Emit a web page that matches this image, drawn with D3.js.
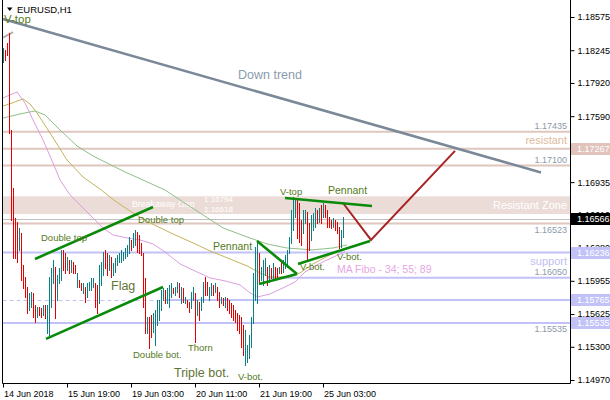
<!DOCTYPE html>
<html><head><meta charset="utf-8">
<script src="https://cdn.jsdelivr.net/npm/d3@7"></script>
<style>
html,body{margin:0;padding:0;background:#fff;}
svg{display:block;font-family:"Liberation Sans",Arial,sans-serif;}
</style>
</head><body>
<svg id="chart" width="610" height="400"></svg>
<script>
// ---------- DATA ----------
const timeTickBars = [0, 32, 64, 96, 128, 160];
const timeLabels = ["14 Jun 2018", "15 Jun 19:00", "19 Jun 03:00", "20 Jun 11:00", "21 Jun 19:00", "25 Jun 03:00"];
const priceTicks = [1.18575, 1.18245, 1.17920, 1.17590, 1.17265, 1.16935, 1.16610, 1.16280, 1.15955, 1.15625, 1.15300, 1.14970];
const hiddenTickLabels = [1.17265];

const highs = [
1.18267,1.18247,1.18317,1.18416,1.17453,1.16877,1.16579,1.16540,1.16480,1.16430,
1.16113,1.15993,1.15894,1.15834,1.15844,1.15834,1.15715,1.15695,1.15695,1.15686,
1.15715,1.15715,1.15715,1.15993,1.16083,1.16162,1.16093,1.16013,1.16083,1.16262,
1.16262,1.16232,1.16192,1.16162,1.16162,1.16142,1.16113,1.16033,1.15964,1.15934,
1.15934,1.15894,1.15934,1.15944,1.15983,1.15983,1.15934,1.15914,1.16113,1.16142,
1.16242,1.16262,1.16232,1.16212,1.16192,1.16132,1.16182,1.16212,1.16232,1.16262,
1.16242,1.16281,1.16311,1.16391,1.16361,1.16430,1.16460,1.16440,1.16410,1.16331,
1.16232,1.15983,1.15596,1.15596,1.15616,1.15636,1.15666,1.15765,1.15765,1.15864,
1.15884,1.15864,1.15884,1.15914,1.15934,1.15884,1.15894,1.15944,1.15934,1.15894,
1.15884,1.15795,1.15765,1.15745,1.15844,1.15894,1.15834,1.15765,1.15745,1.15795,
1.15944,1.15993,1.15944,1.15894,1.15934,1.15914,1.15934,1.15894,1.15844,1.15795,
1.15785,1.15795,1.15785,1.15765,1.15735,1.15715,1.15666,1.15636,1.15616,1.15596,
1.15517,1.15467,1.15318,1.15417,1.15596,1.16033,1.16291,1.16331,1.16232,1.16093,
1.16162,1.16182,1.16093,1.16113,1.16083,1.16132,1.16093,1.16083,1.16093,1.16162,
1.16162,1.16212,1.16262,1.16391,1.16659,1.16788,1.16758,1.16758,1.16728,1.16559,
1.16659,1.16659,1.16639,1.16530,1.16609,1.16629,1.16679,1.16659,1.16679,1.16708,
1.16728,1.16708,1.16659,1.16589,1.16559,1.16579,1.16559,1.16540,1.16490,1.16460,
1.16589];
const lows = [
1.18128,1.18148,1.18198,1.17423,1.16559,1.16182,1.16182,1.16142,1.16262,1.15964,
1.15884,1.15795,1.15636,1.15666,1.15695,1.15596,1.15547,1.15596,1.15616,1.15596,
1.15616,1.15586,1.15437,1.15417,1.15695,1.15934,1.15586,1.15765,1.15934,1.15964,
1.16063,1.16033,1.16063,1.16033,1.16043,1.16033,1.16033,1.15894,1.15894,1.15864,
1.15834,1.15745,1.15795,1.15864,1.15864,1.15894,1.15695,1.15636,1.15735,1.15914,
1.16013,1.16083,1.16013,1.16063,1.15993,1.16013,1.16043,1.16113,1.16142,1.16142,
1.16162,1.16182,1.16202,1.16232,1.16262,1.16291,1.16311,1.16242,1.16232,1.16212,
1.15695,1.15437,1.15437,1.15288,1.15398,1.15447,1.15318,1.15517,1.15566,1.15666,
1.15765,1.15735,1.15735,1.15695,1.15795,1.15834,1.15815,1.15844,1.15795,1.15735,
1.15745,1.15735,1.15695,1.15646,1.15686,1.15765,1.15348,1.15616,1.15566,1.15666,
1.15745,1.15815,1.15815,1.15765,1.15815,1.15815,1.15844,1.15765,1.15695,1.15735,
1.15715,1.15695,1.15666,1.15636,1.15596,1.15566,1.15547,1.15467,1.15437,1.15298,
1.15219,1.15120,1.15149,1.15189,1.15298,1.15537,1.15765,1.15735,1.15934,1.15964,
1.15914,1.16013,1.15914,1.15944,1.15983,1.15964,1.15983,1.15993,1.16033,1.16033,
1.16043,1.16083,1.16093,1.16232,1.16331,1.16460,1.16589,1.16381,1.16341,1.16311,
1.16430,1.16530,1.16162,1.16262,1.16361,1.16460,1.16490,1.16530,1.16540,1.16530,
1.16589,1.16589,1.16490,1.16490,1.16480,1.16490,1.16460,1.16430,1.16281,1.16291,
1.16391];
// bar direction: u = close above open, d = close below open
const directions = ("udddddddud" + "ddduuddudd" + "uduuuuduuu" + "ddududdudd" + "uduuuudduu" +
  "udduduuuuu" + "uuuuduuddd" + "ddudduuuuu" + "uduuuduudu" + "dudduududu" +
  "udduududdu" + "dudddddddd" + "duuuuuuudu" + "uudududdud" + "uuuuuuuddd" +
  "uudduuudud" + "uddddudddu" + "u").split("");

// MA Fibo 34 / 55 / 89 : [bar index, price]
const ma34 = [[0,1.17771],[3.5,1.17801],[7,1.17830],[11,1.17721],[15,1.17552],[20,1.17354],[25,1.17125],[28.5,1.16957],[33.5,1.16808],[38.5,1.16708],[45,1.16579],[50,1.16480],[55,1.16410],[62,1.16381],[68.5,1.16361],[75,1.16321],[81,1.16242],[88.5,1.16123],[97,1.16043],[103.5,1.15984],[111,1.15954],[118.5,1.15914],[123.5,1.15835],[127.5,1.15795],[133.5,1.15825],[141,1.15894],[146,1.15944],[151,1.16043],[156,1.16103],[161,1.16152],[168.5,1.16222],[171,1.16242]];
const ma55 = [[0,1.17691],[4.5,1.17721],[10,1.17761],[13.5,1.17711],[17,1.17622],[23.5,1.17423],[32,1.17155],[40,1.16986],[48.5,1.16867],[56,1.16748],[65,1.16629],[73.5,1.16530],[85,1.16420],[95,1.16331],[103.5,1.16252],[111,1.16192],[122,1.16103],[128.5,1.16033],[133.5,1.15993],[143.5,1.15993],[148.5,1.16033],[155,1.16123],[163.5,1.16212],[171,1.16271]];
const ma89 = [[0,1.17572],[8.5,1.17612],[16,1.17642],[21,1.17602],[28.5,1.17453],[37,1.17294],[45,1.17195],[52,1.17125],[61,1.17036],[71,1.16947],[81,1.16857],[88.5,1.16758],[98.5,1.16629],[110,1.16480],[122,1.16391],[132,1.16321],[142,1.16281],[154.5,1.16262],[165,1.16281],[172,1.16311]];

// drawn objects: [bar, price] end points
const downTrend = [[0,1.18555],[269,1.17031]];
const projection = [[170,1.16728],[184,1.16361],[226,1.17245]];
const shortGray = [[0,1.18370],[5,1.18425]];
const greenLines = [
  [[16,1.16172],[75,1.16688]],
  [[21.5,1.15378],[80,1.15894]],
  [[127,1.16351],[147,1.16023]],
  [[128,1.15924],[147,1.16023]],
  [[141,1.16778],[184.5,1.16698]],
  [[147.5,1.16122],[183.5,1.16351]]
];

const resistLevels = [1.17435, 1.17267, 1.17100, 1.16523];
const resistZone = [1.16794, 1.16618];
const currentPrice = 1.16566;
const supportLevels = [1.16236, 1.15535];
const fiboLine = {price: 1.15985, fromBar: 132.5, label: "1.16050"};
const midSupport = {price: 1.15765, solidFrom: 81};

// annotations: [text, bar, price, kind]
const annotations = [
  ["V-top", 0.5, 1.18518, "big"],
  ["Double top", 19, 1.16351, "small"],
  ["Double top", 67.5, 1.16530, "small"],
  ["Flag", 54, 1.15864, "large"],
  ["Double bot.", 65, 1.15189, "small"],
  ["Thorn", 92.5, 1.15259, "small"],
  ["Triple bot.", 85.5, 1.15000, "large"],
  ["V-bot.", 117.5, 1.14971, "small"],
  ["Pennant", 105, 1.16262, "mid"],
  ["V-top", 138.5, 1.16808, "small"],
  ["Pennant", 162.5, 1.16817, "mid"],
  ["V-bot.", 148.5, 1.16063, "small"],
  ["V-bot.", 167, 1.16165, "small"]
];

// ---------- CHART ----------
const svg = d3.select("#chart");
const plotL = 2.5, plotR = 570.5, plotB = 383.5;
const x = d3.scaleLinear().domain([0, 283.5]).range([3, 570]);
const y = d3.scaleLinear().domain([1.14970, 1.18575]).range([380, 17]);
const px = v => Math.round(x(v)) + 0.5;
const py = v => Math.round(y(v)) + 0.5;

const pinkLine = "#dfc6be", pinkFill = "#ecdcd8", lav = "#c2c2f8";
const txtCol = "#557a22";

const g = svg.append("g");

// Resistant zone
g.append("rect").attr("x", plotL).attr("width", plotR - plotL)
  .attr("y", y(resistZone[0])).attr("height", y(resistZone[1]) - y(resistZone[0]))
  .attr("fill", pinkFill);

// Pink resistance lines
g.selectAll(".rl").data(resistLevels).join("line")
  .attr("x1", plotL).attr("x2", plotR)
  .attr("y1", d => y(d)).attr("y2", d => y(d))
  .attr("stroke", pinkLine).attr("stroke-width", 2);

// current price line
g.append("line").attr("x1", plotL).attr("x2", plotR)
  .attr("y1", py(currentPrice)).attr("y2", py(currentPrice))
  .attr("stroke", "#c0c0c0").attr("stroke-width", 1);

// support lines
g.selectAll(".sl").data(supportLevels).join("line")
  .attr("x1", plotL).attr("x2", plotR)
  .attr("y1", d => y(d)).attr("y2", d => y(d))
  .attr("stroke", lav).attr("stroke-width", 2);
g.append("line").attr("x1", plotL).attr("x2", plotR)
  .attr("y1", py(midSupport.price)).attr("y2", py(midSupport.price))
  .attr("stroke", lav).attr("stroke-width", 1).attr("stroke-dasharray", "4,3");
g.append("line").attr("x1", x(midSupport.solidFrom)).attr("x2", plotR)
  .attr("y1", y(midSupport.price)).attr("y2", y(midSupport.price))
  .attr("stroke", lav).attr("stroke-width", 2);
g.append("line").attr("x1", x(fiboLine.fromBar)).attr("x2", plotR)
  .attr("y1", y(fiboLine.price)).attr("y2", y(fiboLine.price))
  .attr("stroke", lav).attr("stroke-width", 2);

// level texts
const lt = g.append("g").attr("text-anchor", "end");
const lvX = 567;
lt.append("text").attr("x", lvX).attr("y", y(1.17435) - 2.5).attr("font-size", 9).attr("fill", "#8d9aa8").text("1.17435");
lt.append("text").attr("x", lvX).attr("y", y(1.17267) - 5).attr("font-size", 11).attr("fill", "#dcbc9c").text("resistant");
lt.append("text").attr("x", lvX).attr("y", y(1.17100) - 2.5).attr("font-size", 9).attr("fill", "#8d9aa8").text("1.17100");
lt.append("text").attr("x", lvX).attr("y", y(resistZone[1]) - 5).attr("font-size", 11).attr("fill", "#ffffff").text("Resistant Zone");
lt.append("text").attr("x", lvX).attr("y", y(1.16523) + 9).attr("font-size", 9).attr("fill", "#8d9aa8").text("1.16523");
lt.append("text").attr("x", lvX).attr("y", y(1.16236) + 12.5).attr("font-size", 11).attr("fill", "#c0c0f0").text("support");
lt.append("text").attr("x", lvX).attr("y", y(fiboLine.price) - 2.5).attr("font-size", 9).attr("fill", "#8d9aa8").text(fiboLine.label);
lt.append("text").attr("x", lvX).attr("y", y(1.15535) + 9).attr("font-size", 9).attr("fill", "#8d9aa8").text("1.15535");

// Breakaway gap labels
g.append("text").attr("x", x(64.5)).attr("y", y(1.16688)).attr("font-size", 8.8).attr("fill", "#ffffff").text("Breakaway Gap");
g.append("text").attr("x", x(100.5)).attr("y", y(1.16733)).attr("font-size", 8).attr("fill", "#ffffff").text("1.16794");
g.append("text").attr("x", x(100.5)).attr("y", y(1.16638)).attr("font-size", 8).attr("fill", "#ffffff").text("1.16618");

// moving averages
const line = d3.line().x(d => x(d[0])).y(d => y(d[1]));
[[ma89, "#8fbf8a"], [ma55, "#c4b45a"], [ma34, "#dc9edc"]].forEach(([d, c]) => {
  g.append("path").attr("d", line(d)).attr("fill", "none").attr("stroke", c).attr("stroke-width", 1);
});
g.append("path").attr("d", line(shortGray)).attr("stroke", "#b0b0b0").attr("stroke-width", 2).attr("fill", "none");

// bars
g.append("g").selectAll("line").data(highs).join("line")
  .attr("x1", (d, i) => px(i)).attr("x2", (d, i) => px(i))
  .attr("y1", d => Math.round(y(d)))
  .attr("y2", (d, i) => Math.round(y(lows[i])) + 1)
  .attr("stroke", (d, i) => directions[i] === "u" ? "#0a8080" : "#e80000")
  .attr("stroke-width", 1);

// down trend
g.append("path").attr("d", line(downTrend)).attr("stroke", "#7a8898").attr("stroke-width", 2.5).attr("fill", "none");
g.append("text").attr("x", x(117.5)).attr("y", y(1.17960)).attr("font-size", 12.5).attr("fill", "#8a9bb0").text("Down trend");

// projection
g.append("path").attr("d", line(projection)).attr("stroke", "#a82424").attr("stroke-width", 2).attr("fill", "none");

// green pattern lines
g.selectAll(".gl").data(greenLines).join("path")
  .attr("d", d => line(d)).attr("stroke", "#0a8a0a").attr("stroke-width", 2.6).attr("fill", "none");

// annotations
const sizes = {small: 9.5, mid: 10.5, big: 11.5, large: 12.5};
g.selectAll(".an").data(annotations).join("text")
  .attr("x", d => x(d[1])).attr("y", d => y(d[2]))
  .attr("font-size", d => sizes[d[3]])
  .attr("fill", d => d[3] === "large" ? "#5f7436" : txtCol)
  .text(d => d[0]);
g.append("text").attr("x", x(167)).attr("y", y(1.16035)).attr("font-size", 10.5).attr("fill", "#e6a6e6").text("MA Fibo - 34; 55; 89");

// plot frame
svg.append("path").attr("d", `M${plotL},0V${plotB}H${plotR}V0`).attr("fill", "none").attr("stroke", "#000").attr("stroke-width", 1);

// right axis
const ay = svg.append("g").attr("transform", `translate(${plotR},0)`)
  .call(d3.axisRight(y).tickValues(priceTicks).tickSize(4)
    .tickFormat(d => hiddenTickLabels.includes(d) ? "" : d3.format(".5f")(d)));
ay.select(".domain").remove();
ay.selectAll("text").attr("font-size", 9).attr("font-family", "Liberation Sans, Arial, sans-serif").attr("fill", "#000");
ay.selectAll("line").attr("stroke", "#000");

// bottom axis
const ax = svg.append("g").attr("transform", `translate(0,${plotB})`)
  .call(d3.axisBottom(x).tickValues(timeTickBars).tickSize(4).tickFormat((d, i) => timeLabels[i]));
ax.select(".domain").remove();
ax.selectAll(".tick").attr("transform", d => `translate(${px(d)},0)`);
ax.selectAll("text").attr("font-size", 9).attr("font-family", "Liberation Sans, Arial, sans-serif")
  .attr("text-anchor", "start").attr("x", 0.5).attr("fill", "#000");
ax.selectAll("line").attr("stroke", "#000");

// price boxes on the axis
const boxes = [[1.17267, "#e0c4bc"], [1.16566, "#000000"], [1.16236, lav], [1.15765, lav], [1.15535, lav]];
const bx = svg.append("g");
boxes.forEach(([p, c]) => {
  const yy = Math.round(y(p));
  bx.append("rect").attr("x", 571).attr("y", yy - 6).attr("width", 39).attr("height", 12).attr("fill", c);
  bx.append("text").attr("x", 577).attr("y", yy).attr("dy", "0.32em").attr("font-size", 9).attr("fill", "#fff").text(d3.format(".5f")(p));
});

// title
svg.append("path").attr("d", "M7,7.5H12.5L9.75,11Z").attr("fill", "#000");
svg.append("text").attr("x", 17).attr("y", 12.5).attr("font-size", 9.5).attr("fill", "#000").text("EURUSD,H1");
</script>
</body></html>
